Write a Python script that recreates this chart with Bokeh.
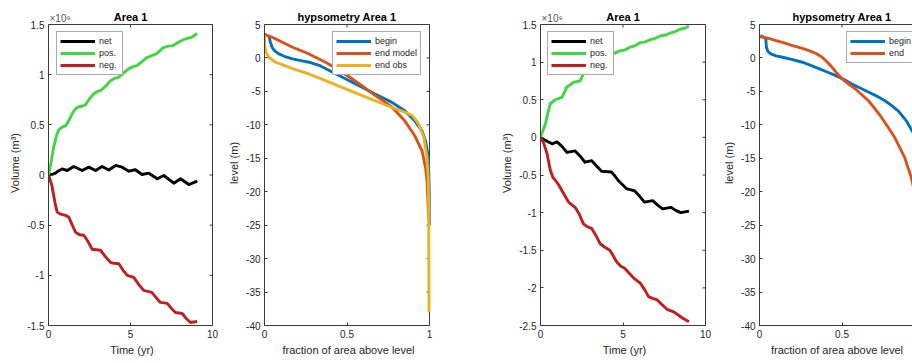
from bokeh.plotting import figure
from bokeh.layouts import row
from bokeh.models import Range1d, FixedTicker, Legend, LegendItem, Label
from bokeh.embed import file_html
from bokeh.resources import INLINE

# ---------------- data ----------------
# Left pair: volume change (units of 1e9 m^3) vs time (yr)
t1_pos = [0, 0.15, 0.32, 0.5, 0.63, 0.85, 1.04, 1.2, 1.44, 1.65, 1.85, 2.05, 2.26, 2.5, 2.77, 2.95,
          3.17, 3.45, 3.78, 4.0, 4.29, 4.6, 4.9, 5.15, 5.4, 5.7, 6.0, 6.3, 6.6, 6.8, 7.0, 7.3, 7.6,
          8.0, 8.4, 8.7, 9.07]
v1_pos = [0, 0.12, 0.28, 0.40, 0.45, 0.48, 0.49, 0.53, 0.61, 0.66, 0.68, 0.685, 0.70, 0.76, 0.81, 0.83,
          0.84, 0.88, 0.94, 0.96, 0.975, 1.02, 1.06, 1.08, 1.09, 1.13, 1.17, 1.19, 1.21, 1.24, 1.27, 1.285, 1.29,
          1.33, 1.36, 1.37, 1.41]
t1_neg = [0, 0.2, 0.4, 0.53, 0.73, 1.0, 1.24, 1.45, 1.65, 1.9, 2.15, 2.4, 2.66, 2.9, 3.17, 3.5, 3.78,
          4.0, 4.29, 4.55, 4.8, 5.0, 5.2, 5.5, 5.8, 6.05, 6.3, 6.6, 6.83, 7.05, 7.24, 7.5, 7.74, 7.95,
          8.15, 8.4, 8.66, 9.07]
v1_neg = [0, -0.1, -0.28, -0.37, -0.39, -0.40, -0.42, -0.50, -0.57, -0.595, -0.60, -0.66, -0.74, -0.745,
          -0.75, -0.82, -0.87, -0.88, -0.885, -0.95, -1.0, -1.01, -1.02, -1.09, -1.15, -1.16, -1.17, -1.23,
          -1.27, -1.275, -1.28, -1.33, -1.37, -1.375, -1.38, -1.43, -1.47, -1.46]
t1_net = [0, 0.2, 0.43, 0.6, 0.83, 1.14, 1.54, 2.05, 2.46, 2.87, 3.27, 3.68, 4.09, 4.49, 4.9, 5.3, 5.7,
          6.12, 6.63, 7.03, 7.64, 8.05, 8.55, 9.07]
v1_net = [0, 0.005, 0.018, 0.04, 0.06, 0.045, 0.085, 0.045, 0.078, 0.045, 0.085, 0.05, 0.095, 0.078,
          0.038, 0.052, 0.005, 0.018, -0.038, -0.005, -0.082, -0.038, -0.095, -0.062]

# Right pair: volume change (units of 1e9 m^3) vs time (yr)
t3_pos = [0, 0.3, 0.45, 0.6, 0.9, 1.3, 1.6, 2.0, 2.4, 2.7, 3.0, 3.4, 3.8, 4.2, 4.5, 4.8, 5.1, 5.45,
          5.75, 6.06, 6.35, 6.67, 7.0, 7.3, 7.6, 7.9, 8.2, 8.5, 8.75, 9.0]
v3_pos = [0, 0.18, 0.33, 0.45, 0.5, 0.53, 0.67, 0.73, 0.75, 0.89, 0.95, 0.98, 1.04, 1.09, 1.12, 1.15,
          1.16, 1.2, 1.22, 1.26, 1.27, 1.3, 1.32, 1.35, 1.36, 1.39, 1.41, 1.44, 1.45, 1.48]
t3_neg = [0, 0.2, 0.4, 0.6, 0.75, 0.9, 1.1, 1.3, 1.7, 2.1, 2.35, 2.6, 2.85, 3.1, 3.35, 3.6, 3.9, 4.2,
          4.4, 4.6, 4.85, 5.1, 5.35, 5.65, 6.06, 6.3, 6.56, 6.8, 7.07, 7.4, 7.7, 8.08, 8.35, 8.6, 9.0]
v3_neg = [0, -0.08, -0.22, -0.44, -0.53, -0.57, -0.63, -0.71, -0.86, -0.93, -1.02, -1.15, -1.19, -1.21,
          -1.30, -1.41, -1.46, -1.5, -1.57, -1.65, -1.71, -1.74, -1.80, -1.87, -1.94, -2.02, -2.12, -2.14,
          -2.16, -2.23, -2.29, -2.32, -2.36, -2.40, -2.45]
t3_net = [0, 0.3, 0.7, 1.0, 1.3, 1.6, 2.1, 2.4, 2.7, 3.1, 3.4, 3.7, 4.3, 4.5, 4.7, 5.2, 5.7, 6.0, 6.3,
          6.8, 7.1, 7.4, 7.9, 8.2, 8.5, 9.0]
v3_net = [0, -0.04, -0.085, -0.06, -0.12, -0.2, -0.18, -0.25, -0.33, -0.31, -0.38, -0.45, -0.46, -0.51,
          -0.57, -0.68, -0.71, -0.78, -0.86, -0.84, -0.90, -0.95, -0.93, -0.97, -1.0, -0.98]

# Left hypsometry: fraction of area above level vs level (m)
f2_begin = [0.026, 0.03, 0.035, 0.046, 0.06, 0.087, 0.12, 0.17, 0.22, 0.27, 0.34, 0.41, 0.49, 0.57,
            0.67, 0.77, 0.85, 0.91, 0.955, 0.976, 0.99, 0.996, 0.998, 0.999]
z2_begin = [3.35, 3.0, 2.4, 1.6, 1.1, 0.6, 0.25, -0.14, -0.4, -0.64, -1.2, -2.1, -3.1, -4.1, -5.4,
            -6.6, -7.9, -9.4, -10.9, -12.4, -14.4, -17.4, -20.0, -25.0]
f2_model = [0.0, 0.02, 0.046, 0.087, 0.17, 0.27, 0.37, 0.45, 0.53, 0.61, 0.67, 0.77, 0.85, 0.91,
            0.955, 0.976, 0.985, 0.99, 0.995]
z2_model = [3.6, 3.3, 3.1, 2.6, 1.6, 0.6, -0.64, -1.8, -3.1, -4.5, -5.6, -7.3, -9.4, -11.6, -13.9,
            -16.4, -18.4, -21.0, -24.0]
f2_obs = [0.0, 0.001, 0.002, 0.01, 0.026, 0.067, 0.17, 0.27, 0.37, 0.47, 0.57, 0.67, 0.77, 0.83,
          0.895, 0.935, 0.966, 0.985, 0.992, 0.995, 0.996, 0.997]
z2_obs = [3.3, 2.5, 1.6, 0.8, 0.1, -0.64, -1.6, -2.4, -3.4, -4.4, -5.4, -6.4, -7.4, -7.9, -8.6, -9.9,
          -11.9, -14.9, -17.9, -22.0, -30.0, -38.0]

# Right hypsometry
f4_begin = [0.008, 0.025, 0.038, 0.04, 0.042, 0.05, 0.068, 0.1, 0.14, 0.2, 0.26, 0.31, 0.36, 0.41,
            0.46, 0.51, 0.56, 0.61, 0.66, 0.71, 0.76, 0.80, 0.84, 0.89, 0.93, 0.96, 0.98]
z4_begin = [3.35, 3.1, 2.85, 2.2, 1.6, 1.0, 0.6, 0.3, 0.1, -0.25, -0.64, -1.1, -1.6, -2.1, -2.6, -3.2,
            -3.9, -4.5, -5.1, -5.7, -6.4, -7.1, -7.9, -9.4, -11.1, -13.5, -17.0]
f4_end = [0.0, 0.05, 0.1, 0.15, 0.2, 0.25, 0.30, 0.34, 0.38, 0.41, 0.44, 0.47, 0.50, 0.54, 0.58,
          0.62, 0.66, 0.70, 0.74, 0.78, 0.82, 0.85, 0.88, 0.90, 0.92, 0.935, 0.95]
z4_end = [3.2, 2.95, 2.6, 2.25, 1.85, 1.5, 1.1, 0.7, 0.1, -0.6, -1.4, -2.3, -3.1, -3.9, -4.6, -5.5,
          -6.4, -7.6, -8.9, -10.4, -11.9, -13.4, -14.9, -16.4, -17.9, -19.5, -21.0]

# ticks
time_ticks = [0, 5, 10]
time_labels = ["0", "5", "10"]
frac_ticks = [0, 0.5, 1]
frac_labels = ["0", "0.5", "1"]
vol1_ticks = [-1.5, -1, -0.5, 0, 0.5, 1, 1.5]
vol1_labels = ["-1.5", "-1", "-0.5", "0", "0.5", "1", "1.5"]
vol3_ticks = [-2.5, -2, -1.5, -1, -0.5, 0, 0.5, 1, 1.5]
vol3_labels = ["-2.5", "-2", "-1.5", "-1", "-0.5", "0", "0.5", "1", "1.5"]
lev_ticks = [-40, -35, -30, -25, -20, -15, -10, -5, 0, 5]
lev_labels = ["-40", "-35", "-30", "-25", "-20", "-15", "-10", "-5", "0", "5"]

# ---------------- style ----------------
FONT = "Liberation Sans"
AX = "#3a3a3a"
TXT = "#262626"
BLACK, GREEN, RED = "#000000", "#40d640", "#c01f1f"
BLUE, ORANGE, YELLOW = "#0072BD", "#D95319", "#EDB120"
LW = 2.9
AXH = 301      # pixel height of the axes box
TOPPAD = 24    # pixels above the axes box (title zone, kept inside the frame)
TICK = 3       # inward tick length, px


def style_axis(ax, ticks, labels, bounds):
    ax.ticker = FixedTicker(ticks=ticks)
    ax.bounds = bounds
    ax.major_tick_in = TICK
    ax.major_tick_out = 0
    ax.minor_tick_line_color = None
    ax.axis_line_color = AX
    ax.major_tick_line_color = AX
    ax.major_label_overrides = {t: l for t, l in zip(ticks, labels)}
    ax.major_label_text_font = FONT
    ax.major_label_text_font_size = "10px"
    ax.major_label_text_color = TXT
    ax.major_label_standoff = 4
    ax.axis_label_text_font = FONT
    ax.axis_label_text_font_size = "11px"
    ax.axis_label_text_font_style = "normal"
    ax.axis_label_text_color = TXT
    ax.axis_label_standoff = 3


def make_fig(left, axw, rpad, right, xr, yr, xt, xl, yt, yl, xlabel, ylabel, title,
             title_x=None, exp=False, right_box=True, xr_show=None):
    x0, x1 = xr
    y0, y1 = yr
    xs0, xs1 = (x0, x1) if xr_show is None else xr_show
    xpx = (xs1 - xs0) / axw
    ypx = (y1 - y0) / AXH
    p = figure(frame_width=axw + rpad, frame_height=AXH + TOPPAD,
               x_range=Range1d(xs0, xs1 + rpad * xpx), y_range=Range1d(y0, y1 + TOPPAD * ypx),
               min_border_left=left, min_border_right=right, min_border_top=0, min_border_bottom=38,
               output_backend="svg", toolbar_location=None, x_axis_label=xlabel, y_axis_label=ylabel,
               title=None)
    p.outline_line_color = None
    p.xgrid.visible = False
    p.ygrid.visible = False
    p.background_fill_color = "white"
    p.border_fill_color = "white"
    style_axis(p.xaxis[0], xt, xl, (x0, x1))
    style_axis(p.yaxis[0], yt, yl, (y0, y1))
    # box: top line (+ right line) with inward ticks
    p.segment(x0=[x0], y0=[y1], x1=[x1], y1=[y1], line_color=AX, line_width=1)
    p.segment(x0=xt, y0=[y1] * len(xt), x1=xt, y1=[y1 - TICK * ypx] * len(xt), line_color=AX, line_width=1)
    if right_box:
        p.segment(x0=[x1], y0=[y0], x1=[x1], y1=[y1], line_color=AX, line_width=1)
        p.segment(x0=[x1] * len(yt), y0=yt, x1=[x1 - TICK * xpx] * len(yt), y1=yt, line_color=AX, line_width=1)
    # title and exponent
    tx = (x0 + x1) / 2 if title_x is None else title_x
    p.add_layout(Label(x=tx, y=y1, text=title, text_font=FONT, text_font_size="11px",
                       text_font_style="bold", text_color="#000000", text_align="center",
                       text_baseline="bottom", y_offset=2))
    if exp:
        p.add_layout(Label(x=x0, y=y1, text="×10⁹", text_font=FONT, text_font_size="10px",
                           text_color="#555555", text_align="left", text_baseline="bottom",
                           y_offset=1, x_offset=1))
    return p


def make_legend(p, items, location):
    lg = Legend(items=[LegendItem(label=l, renderers=[r]) for l, r in items], location=location)
    lg.margin = 0
    lg.padding = 3
    lg.spacing = 0
    lg.glyph_width = 35
    lg.glyph_height = 12
    lg.label_height = 12
    lg.label_standoff = 4
    lg.label_text_font = FONT
    lg.label_text_font_size = "9px"
    lg.label_text_color = TXT
    lg.border_line_color = "#555555"
    lg.border_line_width = 1
    lg.background_fill_color = "white"
    lg.background_fill_alpha = 1
    p.add_layout(lg, "center")


# panel 1
p1 = make_fig(48, 164, 3, 10, (0, 10), (-1.5, 1.5), time_ticks, time_labels, vol1_ticks, vol1_labels,
              "Time (yr)", "Volume (m³)", "Area 1", exp=True)
r_net = p1.line(t1_net, v1_net, line_width=LW, color=BLACK, line_join="round")
r_pos = p1.line(t1_pos, v1_pos, line_width=LW, color=GREEN, line_join="round")
r_neg = p1.line(t1_neg, v1_neg, line_width=LW, color=RED, line_join="round")
make_legend(p1, [("net", r_net), ("pos.", r_pos), ("neg.", r_neg)], (8, 250))

# panel 2
p2 = make_fig(39, 165, 3, 48, (0, 1), (-40, 5), frac_ticks, frac_labels, lev_ticks, lev_labels,
              "fraction of area above level", "level (m)", "hypsometry Area 1")
r_b = p2.line(f2_begin, z2_begin, line_width=LW, color=BLUE, line_join="round")
r_m = p2.line(f2_model, z2_model, line_width=LW, color=ORANGE, line_join="round")
r_o = p2.line(f2_obs, z2_obs, line_width=LW, color=YELLOW, line_join="round")
make_legend(p2, [("begin", r_b), ("end model", r_m), ("end obs", r_o)], (68, 250))

# panel 3
p3 = make_fig(60, 165, 3, 12, (0, 10), (-2.5, 1.5), time_ticks, time_labels, vol3_ticks, vol3_labels,
              "Time (yr)", "Volume (m³)", "Area 1", exp=True)
r_net3 = p3.line(t3_net, v3_net, line_width=LW, color=BLACK, line_join="round")
r_pos3 = p3.line(t3_pos, v3_pos, line_width=LW, color=GREEN, line_join="round")
r_neg3 = p3.line(t3_neg, v3_neg, line_width=LW, color=RED, line_join="round")
make_legend(p3, [("net", r_net3), ("pos.", r_pos3), ("neg.", r_neg3)], (7, 250))

# panel 4 (the window cuts it at the right, as in the original)
p4 = make_fig(37, 155, 0, 0, (0, 1), (-40, 5), frac_ticks, frac_labels, lev_ticks, lev_labels,
              "fraction of area above level", "level (m)", "hypsometry Area 1",
              title_x=0.5, right_box=False, xr_show=(0, 155 / 165))
r_b4 = p4.line(f4_begin, z4_begin, line_width=LW, color=BLUE, line_join="round")
r_e4 = p4.line(f4_end, z4_end, line_width=LW, color=ORANGE, line_join="round")
make_legend(p4, [("begin", r_b4), ("end", r_e4)], (87, 262))

layout = row(p1, p2, p3, p4)
open("out.html", "w").write(file_html(layout, INLINE))
